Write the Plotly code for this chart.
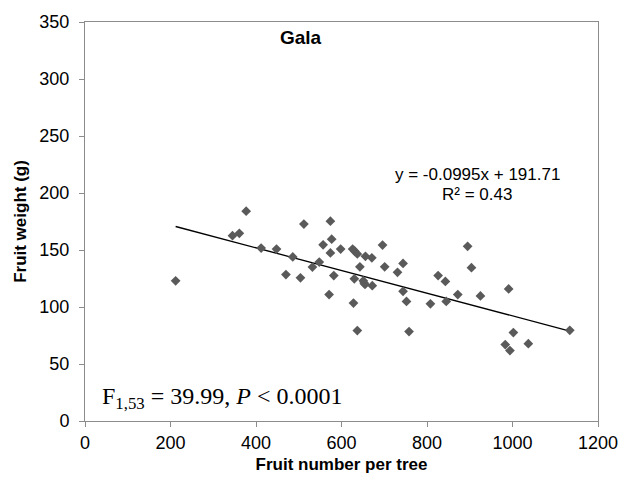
import plotly.graph_objects as go
import numpy as np

fruit_number = [212, 345, 361, 377, 412, 448, 470, 486, 504, 512, 532, 548, 557, 574, 577, 574,
                571, 582, 598, 626, 631, 637, 628, 630, 637, 643, 651, 653, 655, 656, 671, 672,
                696, 701, 731, 744, 744, 752, 758, 808, 826, 843, 845, 872, 895, 904, 925, 983,
                991, 994, 1002, 1037, 1134]
fruit_weight = [123, 162.6, 164.6, 184, 151.7, 150.8, 128.4, 143.9, 125.6, 172.7, 135, 139.4, 154.6,
                175.3, 159.5, 147.4, 110.9, 127.6, 150.8, 150.8, 148.9, 146.5, 103.4, 124.7, 79.3,
                135.3, 123, 121, 119.8, 144.5, 143.1, 118.7, 154.3, 135.3, 130.4, 138.2, 113.8,
                104.9, 78.4, 102.8, 127.6, 122.4, 104.9, 110.9, 153.2, 134.5, 109.7, 67, 115.8,
                61.8, 77.6, 67.8, 79.6]

slope = -0.0995
intercept = 191.71

x_ticks = [0, 200, 400, 600, 800, 1000, 1200]
y_ticks = [0, 50, 100, 150, 200, 250, 300, 350]

line_x = np.array([min(fruit_number), max(fruit_number)])
line_y = slope * line_x + intercept

SANS = "Liberation Sans, Arial"
fig = go.Figure()
fig.add_trace(go.Scatter(x=line_x, y=line_y, mode="lines",
                         line=dict(color="black", width=1.3), showlegend=False))
fig.add_trace(go.Scatter(x=fruit_number, y=fruit_weight, mode="markers",
                         marker=dict(symbol="diamond", size=7.5, color="#5a5a5a"),
                         showlegend=False))

axis_common = dict(showgrid=False, zeroline=False, showline=True, linecolor="#8c8c8c",
                   linewidth=1, mirror=True, ticks="outside", ticklen=5, tickcolor="#8c8c8c",
                   tickfont=dict(family=SANS, size=18, color="black"))

fig.update_xaxes(range=[0, 1200], tickvals=x_ticks, **axis_common,
                 title=dict(text="<b>Fruit number per tree</b>",
                            font=dict(family=SANS, size=17, color="black"),
                            standoff=6))
fig.update_yaxes(range=[0, 350], tickvals=y_ticks, ticklabelstandoff=6, **axis_common,
                 title=dict(text="<b>Fruit weight (g)</b>",
                            font=dict(family=SANS, size=17, color="black"),
                            standoff=8))

fig.add_annotation(x=505, y=336, text="<b>Gala</b>", showarrow=False,
                   font=dict(family=SANS, size=19, color="black"))
fig.add_annotation(x=918, y=216, text="y = -0.0995x + 191.71", showarrow=False,
                   font=dict(family=SANS, size=17, color="black"))
fig.add_annotation(x=918, y=199, text="R² = 0.43", showarrow=False,
                   font=dict(family=SANS, size=17, color="black"))
fig.add_annotation(x=35, y=20, xanchor="left", showarrow=False,
                   text="F<sub>1,53</sub> = 39.99, <i>P</i> < 0.0001",
                   font=dict(family="Liberation Serif, Times New Roman", size=24, color="black"))

fig.update_layout(width=638, height=485, margin=dict(l=85, r=40, t=15, b=64),
                  plot_bgcolor="white", paper_bgcolor="white")

fig.write_html("out.html")
